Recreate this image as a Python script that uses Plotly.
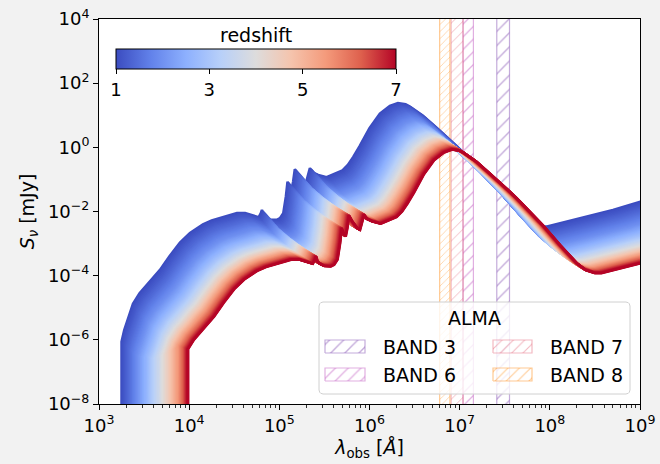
import numpy as np
import plotly.graph_objects as go
from plotly.colors import sample_colorscale

# ---- data -----------------------------------------------------------------
# SED of the z = 1 curve (log10 observed wavelength [Å], log10 flux density [mJy])
z1_log_wavelength = [3.250, 3.280, 3.310, 3.377, 3.450, 3.532, 3.600, 3.676, 3.780, 3.898,
                     4.009, 4.153, 4.250, 4.341, 4.450, 4.530, 4.620, 4.700, 4.770, 4.795,
                     4.807, 4.825, 4.850, 4.900, 4.970, 5.007, 5.044, 5.073, 5.091, 5.109,
                     5.135, 5.153, 5.172, 5.209, 5.264, 5.294, 5.320, 5.339, 5.376, 5.431,
                     5.524, 5.635, 5.700, 5.760, 5.820, 5.894, 6.000, 6.115, 6.226, 6.315,
                     6.400, 6.448, 6.590, 6.747, 6.860, 6.950, 7.040, 7.150, 7.335, 7.520,
                     7.705, 7.800, 7.900, 7.970, 8.100, 8.400, 8.700, 9.050]
z1_log_flux = [-6.06, -5.70, -5.44, -4.88, -4.55, -4.29, -4.05, -3.82, -3.40, -2.97,
               -2.67, -2.40, -2.28, -2.20, -2.10, -2.05, -2.05, -2.12, -2.18, -2.05,
               -1.95, -2.12, -2.18, -2.25, -2.26, -2.21, -2.05, -1.53, -1.07, -1.22,
               -1.33, -1.07, -0.68, -0.86, -1.07, -1.12, -0.81, -0.65, -0.79, -0.86,
               -0.93, -0.80, -0.72, -0.55, -0.30, 0.05, 0.60, 1.05, 1.29, 1.38,
               1.34, 1.27, 0.99, 0.60, 0.32, 0.08, -0.16, -0.47, -1.02, -1.62,
               -2.18, -2.38, -2.47, -2.47, -2.38, -2.17, -1.95, -1.66]

# flux dimming relative to z = 1 (dex) and rest-frame UV cut-off wavelength per redshift
redshift_knots = [1, 2, 3, 4, 5, 6, 7]
flux_dimming_dex = [0.0, -0.573, -0.879, -1.083, -1.234, -1.352, -1.450]
uv_cutoff_rest_A = [890, 912, 950, 1030, 1130, 1200, 1216]

redshift_first, redshift_last, redshift_step = 1.0, 7.0, 0.05

# ALMA bands (observed wavelength, Å)
band_names = ["BAND 3", "BAND 6", "BAND 7", "BAND 8"]
band_low_A = [2.58e7, 1.09e7, 8.04e6, 6.00e6]
band_high_A = [3.57e7, 1.42e7, 1.09e7, 7.79e6]
band_colors = ["rgba(148,103,189,0.55)", "rgba(200,110,200,0.55)",
               "rgba(228,100,120,0.45)", "rgba(255,150,40,0.50)"]
band_hatch_size = [10, 9, 7, 5]

x_tick_vals = [1e3, 1e4, 1e5, 1e6, 1e7, 1e8, 1e9]
x_tick_text = ["10<sup>3</sup>", "10<sup>4</sup>", "10<sup>5</sup>", "10<sup>6</sup>",
               "10<sup>7</sup>", "10<sup>8</sup>", "10<sup>9</sup>"]
y_tick_vals = [1e-8, 1e-6, 1e-4, 1e-2, 1e0, 1e2, 1e4]
y_tick_text = ["10<sup>\u22128</sup>", "10<sup>\u22126</sup>", "10<sup>\u22124</sup>",
               "10<sup>\u22122</sup>", "10<sup>0</sup>", "10<sup>2</sup>", "10<sup>4</sup>"]
cbar_ticks = [1, 3, 5, 7]

coolwarm = [[0.0, "rgb(59,76,192)"], [0.125, "rgb(98,130,234)"], [0.25, "rgb(141,176,254)"],
            [0.375, "rgb(184,208,249)"], [0.5, "rgb(221,220,220)"], [0.625, "rgb(245,196,173)"],
            [0.75, "rgb(244,154,123)"], [0.875, "rgb(222,96,77)"], [1.0, "rgb(180,4,38)"]]

# ---- geometry -----------------------------------------------------------------
W, H = 660, 464
L, R, T, B = 99, 20, 19, 60
PW, PH = W - L - R, H - T - B
FONT = "DejaVu Sans"


def fx(px):
    return (px - L) / PW


def fy(py):
    return (H - B - py) / PH


fig = go.Figure()

# ALMA bands (drawn first, curves go on top)
for name, lo, hi, col, hs in zip(band_names, band_low_A, band_high_A, band_colors, band_hatch_size):
    fig.add_trace(go.Scatter(x=[lo, hi, hi, lo, lo], y=[1e-10, 1e-10, 1e6, 1e6, 1e-10],
                             mode="lines", fill="toself", fillcolor="rgba(0,0,0,0)",
                             line=dict(color=col, width=1.2),
                             fillpattern=dict(shape="/", size=hs, solidity=0.14, fgcolor=col,
                                              bgcolor="rgba(0,0,0,0)", fgopacity=1),
                             hoverinfo="skip", showlegend=False, name=name))

lw = np.array(z1_log_wavelength)
lf = np.array(z1_log_flux)
redshifts = np.round(np.arange(redshift_first, redshift_last + 1e-9, redshift_step), 3)
colors = sample_colorscale(coolwarm, list((redshifts - 1) / 6))
log_knots = np.log10(1 + np.array(redshift_knots))

for z, col in zip(redshifts, colors):
    shift = np.log10((1 + z) / 2.0)
    dim = np.interp(np.log10(1 + z), log_knots, flux_dimming_dex)
    cut = np.log10(np.interp(z, redshift_knots, uv_cutoff_rest_A) * 2.0)
    keep = lw > cut
    xs = np.concatenate([[cut, cut], lw[keep]])
    ys = np.concatenate([[-12.0, np.interp(cut, lw, lf)], lf[keep]])
    fig.add_trace(go.Scatter(x=10 ** (xs + shift), y=10 ** (ys + dim), mode="lines",
                             line=dict(color=col, width=2.6), hoverinfo="skip",
                             showlegend=False))

# colorbar carrier
fig.add_trace(go.Scatter(x=[10, 10], y=[1e-12, 1e-12], mode="markers",
                         marker=dict(size=1, color=[1, 7], cmin=1, cmax=7, colorscale=coolwarm,
                                     showscale=True,
                                     colorbar=dict(orientation="h", lenmode="pixels", len=280,
                                                   thickness=20, x=fx(116), xanchor="left",
                                                   y=fy(49), yanchor="top", xpad=0, ypad=0,
                                                   outlinecolor="black", outlinewidth=1,
                                                   ticks="outside", ticklen=5, tickcolor="black",
                                                   tickvals=cbar_ticks,
                                                   tickfont=dict(family=FONT, size=18, color="black"))),
                         hoverinfo="skip", showlegend=False))
fig.add_annotation(x=fx(256), y=fy(35), xref="paper", yref="paper", text="redshift",
                   showarrow=False, xanchor="center", yanchor="middle",
                   font=dict(family=FONT, size=19, color="black"))

# ---- custom legend (overlay axes in plot-fraction units) -----------------------
bx0, bx1, by0, by1 = fx(319), fx(630), fy(394), fy(302)
rx, ry = 4 / PW, 4 / PH
ang = np.linspace(0, np.pi / 2, 6)
px_, py_ = [], []
for cx, cy, a0 in [(bx1 - rx, by1 - ry, 0), (bx0 + rx, by1 - ry, np.pi / 2),
                   (bx0 + rx, by0 + ry, np.pi), (bx1 - rx, by0 + ry, 1.5 * np.pi)]:
    px_ += list(cx + rx * np.cos(ang + a0))
    py_ += list(cy + ry * np.sin(ang + a0))
px_.append(px_[0]); py_.append(py_[0])
fig.add_trace(go.Scatter(x=px_, y=py_, xaxis="x2", yaxis="y2", mode="lines", fill="toself",
                         fillcolor="rgba(255,255,255,0.8)", line=dict(color="#d0d0d0", width=1),
                         hoverinfo="skip", showlegend=False))

handle_pos = {"BAND 3": (325, 365, 340, 353), "BAND 6": (325, 365, 368, 381),
              "BAND 7": (493, 532, 340, 353), "BAND 8": (493, 532, 368, 381)}
text_pos = {"BAND 3": (381, 346.5), "BAND 6": (381, 375), "BAND 7": (548, 346.5), "BAND 8": (548, 375)}
for name, col, hs in zip(band_names, band_colors, band_hatch_size):
    x0, x1, y0, y1 = handle_pos[name]
    fig.add_trace(go.Scatter(x=[fx(x0), fx(x1), fx(x1), fx(x0), fx(x0)],
                             y=[fy(y1), fy(y1), fy(y0), fy(y0), fy(y1)],
                             xaxis="x2", yaxis="y2", mode="lines", fill="toself",
                             fillcolor="rgba(0,0,0,0)", line=dict(color=col, width=1.2),
                             fillpattern=dict(shape="/", size=max(hs, 8), solidity=0.14, fgcolor=col,
                                              bgcolor="rgba(0,0,0,0)", fgopacity=1),
                             hoverinfo="skip", showlegend=False))
    tx, ty = text_pos[name]
    fig.add_annotation(x=fx(tx), y=fy(ty), xref="paper", yref="paper", text=name,
                       showarrow=False, xanchor="left", yanchor="middle",
                       font=dict(family=FONT, size=19, color="black"))
fig.add_annotation(x=fx(474), y=fy(318), xref="paper", yref="paper", text="ALMA",
                   showarrow=False, xanchor="center", yanchor="middle",
                   font=dict(family=FONT, size=19, color="black"))

minor_x = [m * 10 ** e for e in range(3, 9) for m in range(2, 10)]

fig.update_layout(
    width=W, height=H, margin=dict(l=L, r=R, t=T, b=B, autoexpand=False),
    paper_bgcolor="#f2f2f2", plot_bgcolor="white", showlegend=False,
    font=dict(family=FONT, size=18, color="black"),
    xaxis=dict(type="log", range=[3, 9], showgrid=False, zeroline=False,
               showline=True, linecolor="black", linewidth=1, mirror=True,
               ticks="outside", ticklen=5, tickwidth=1, tickcolor="black",
               tickvals=x_tick_vals, ticktext=x_tick_text,
               tickfont=dict(family=FONT, size=18, color="black"),
               minor=dict(tickvals=minor_x, ticks="outside", ticklen=3, tickwidth=0.8,
                          tickcolor="black", showgrid=False),
               title=dict(text="<i>λ</i><sub>obs</sub> [<i>Å</i>]", standoff=6,
                          font=dict(family=FONT, size=19, color="black"))),
    yaxis=dict(type="log", range=[-8, 4], showgrid=False, zeroline=False,
               showline=True, linecolor="black", linewidth=1, mirror=True,
               ticks="outside", ticklen=5, tickwidth=1, tickcolor="black",
               tickvals=y_tick_vals, ticktext=y_tick_text,
               tickfont=dict(family=FONT, size=18, color="black"),
               title=dict(text="<i>S</i><sub><i>ν</i></sub> [mJy]", standoff=8,
                          font=dict(family=FONT, size=19, color="black"))),
    xaxis2=dict(overlaying="x", range=[0, 1], visible=False, fixedrange=True),
    yaxis2=dict(overlaying="y", range=[0, 1], visible=False, fixedrange=True),
)

fig.write_html("out.html", config={"displayModeBar": False, "staticPlot": True},
               post_script="document.body.style.margin='0';document.body.style.background='#f2f2f2';")
